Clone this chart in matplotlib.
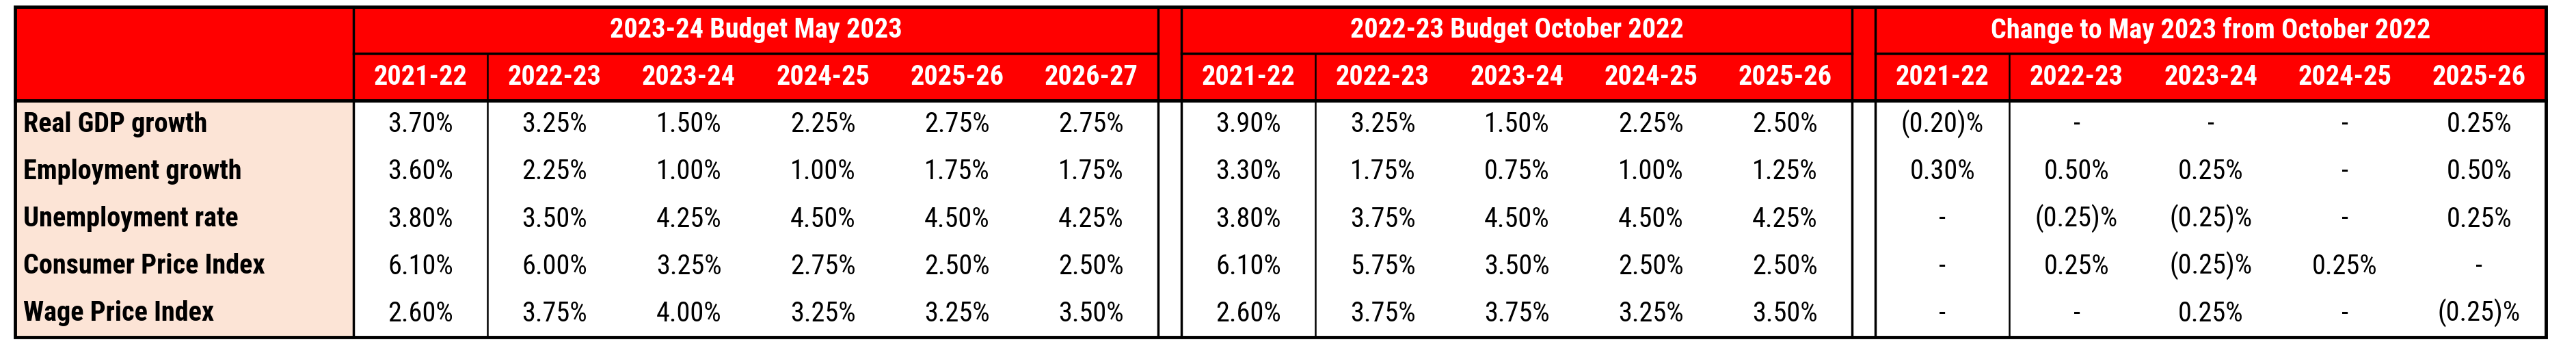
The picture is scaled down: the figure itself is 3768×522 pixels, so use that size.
import matplotlib.pyplot as plt
from matplotlib.patches import Rectangle

# row labels and column headers
rows = ["Real GDP growth", "Employment growth", "Unemployment rate",
        "Consumer Price Index", "Wage Price Index"]
groups = ["2023-24 Budget May 2023", "2022-23 Budget October 2022",
          "Change to May 2023 from October 2022"]
years_may = ["2021-22", "2022-23", "2023-24", "2024-25", "2025-26", "2026-27"]
years_oct = ["2021-22", "2022-23", "2023-24", "2024-25", "2025-26"]
years_chg = ["2021-22", "2022-23", "2023-24", "2024-25", "2025-26"]

may_2023 = [
    ["3.70%", "3.25%", "1.50%", "2.25%", "2.75%", "2.75%"],
    ["3.60%", "2.25%", "1.00%", "1.00%", "1.75%", "1.75%"],
    ["3.80%", "3.50%", "4.25%", "4.50%", "4.50%", "4.25%"],
    ["6.10%", "6.00%", "3.25%", "2.75%", "2.50%", "2.50%"],
    ["2.60%", "3.75%", "4.00%", "3.25%", "3.25%", "3.50%"],
]
oct_2022 = [
    ["3.90%", "3.25%", "1.50%", "2.25%", "2.50%"],
    ["3.30%", "1.75%", "0.75%", "1.00%", "1.25%"],
    ["3.80%", "3.75%", "4.50%", "4.50%", "4.25%"],
    ["6.10%", "5.75%", "3.50%", "2.50%", "2.50%"],
    ["2.60%", "3.75%", "3.75%", "3.25%", "3.50%"],
]
change = [
    ["(0.20)%", "-", "-", "-", "0.25%"],
    ["0.30%", "0.50%", "0.25%", "-", "0.50%"],
    ["-", "(0.25)%", "(0.25)%", "-", "0.25%"],
    ["-", "0.25%", "(0.25)%", "0.25%", "-"],
    ["-", "-", "0.25%", "-", "(0.25)%"],
]

RED = "#FF0000"
PEACH = "#FCE4D6"
FONT = ["Liberation Sans Narrow", "Roboto Condensed", "DejaVu Sans"]
FS = 29

W, H = 3768, 522
fig = plt.figure(figsize=(W / 100, H / 100), dpi=100)
ax = fig.add_axes([0, 0, 1, 1])
ax.set_xlim(0, W)
ax.set_ylim(H, 0)
ax.axis("off")

left, label_right = 22, 517
top, h1, h2, bottom = 10, 78, 147, 493
col_w = 196.2
gap = 34
row_h = (bottom - h2) / len(rows)

blocks = []
x = label_right
for name, years, vals in zip(groups, [years_may, years_oct, years_chg],
                             [may_2023, oct_2022, change]):
    blocks.append((x, name, years, vals))
    x += col_w * len(years) + gap
right = x - gap

# header background
ax.add_patch(Rectangle((left, top), right - left, h2 - top, color=RED, zorder=0))
ax.add_patch(Rectangle((left, h2), label_right - left, bottom - h2, color=PEACH, zorder=0))

for i, name in enumerate(rows):
    yc = h2 + row_h * (i + 0.5)
    ax.text(left + 12, yc, name, ha="left", va="center", fontsize=FS,
            fontweight="bold", family=FONT)

for bi, (x0, name, years, vals) in enumerate(blocks):
    x1 = x0 + col_w * len(years)
    ax.text((x0 + x1) / 2, (top + h1) / 2, name, ha="center", va="center",
            fontsize=FS, fontweight="bold", color="white", family=FONT)
    for j, yr in enumerate(years):
        xc = x0 + col_w * (j + 0.5)
        ax.text(xc, (h1 + h2) / 2, yr, ha="center", va="center", fontsize=FS,
                fontweight="bold", color="white", family=FONT)
        for i in range(len(rows)):
            ax.text(xc, h2 + row_h * (i + 0.5), vals[i][j], ha="center",
                    va="center", fontsize=FS, family=FONT)
    # group borders
    for xx in (x0, x1):
        ax.plot([xx, xx], [top, bottom], color="black", lw=2.5)
    ax.plot([x0 + col_w] * 2, [h1, bottom], color="black", lw=1.8)
    ax.plot([x0, x1], [h1, h1], color="black", lw=2.5)

ax.plot([left, right], [h2, h2], color="black", lw=3.5)
ax.add_patch(Rectangle((left, top), right - left, bottom - top, fill=False,
                       ec="black", lw=3.5, zorder=5))

fig.savefig("out.png", dpi=100, facecolor="white")
